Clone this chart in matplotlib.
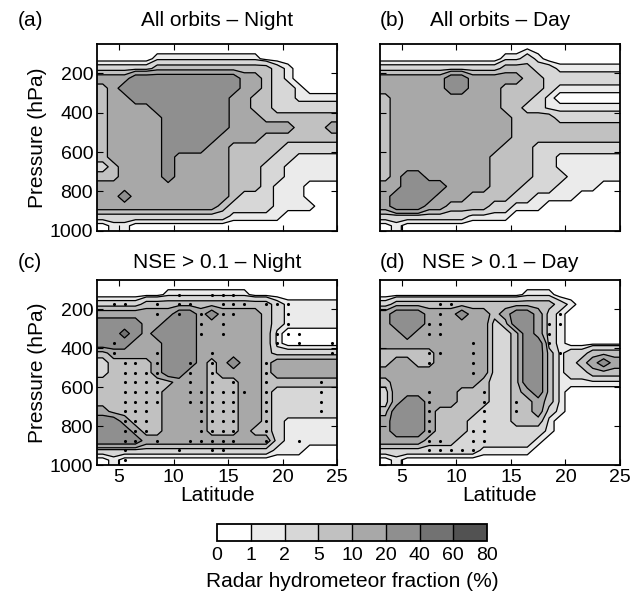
import numpy as np
import matplotlib
matplotlib.use('Agg')
import matplotlib.pyplot as plt
from matplotlib.colors import ListedColormap, BoundaryNorm
from matplotlib.cm import ScalarMappable

plt.rcParams['font.family'] = ['Liberation Sans', 'DejaVu Sans']

# ---------------- data ----------------
levels = [0, 1, 2, 5, 10, 20, 40, 60, 80]
level_labels = ['0', '1', '2', '5', '10', '20', '40', '60', '80']
shades = ['#ffffff', '#ebebeb', '#d7d7d7', '#c1c1c1', '#a8a8a8', '#8f8f8f', '#727272', '#525252']
# representative fraction (%) of each class 0..7
bin_value = [0.4, 1.5, 3.0, 7.0, 14.0, 29.0, 49.0, 69.0]

latitude = [3.5, 4.5, 5.5, 6.5, 7.5, 8.5, 9.5, 10.5, 11.5, 12.5, 13.5,
            14.5, 15.5, 16.5, 17.5, 18.5, 19.5, 20.5, 21.5, 22.5, 23.5, 24.5]
pressure = [125, 175, 225, 275, 325, 375, 425, 475, 525, 575, 625,
            675, 725, 775, 825, 875, 925, 975]
lat_ticks = [5, 10, 15, 20, 25]
p_ticks = [200, 400, 600, 800, 1000]

# class of radar hydrometeor fraction on the grid (rows = pressure, cols = latitude)
night_all = [
    "0000011111111110000000",
    "2222233333333333210000",
    "4445555555555443210000",
    "3455555555555443221000",
    "3445555555554433221111",
    "3444455555554433222222",
    "3444445555554443333333",
    "3444445555554444443334",
    "3444445555544443333333",
    "3444445555443333322222",
    "3444445444443333221111",
    "2344445444443332211111",
    "3344445444443332211111",
    "4444444444443332111000",
    "4454444444443222111000",
    "4444444444432222111100",
    "2222222222221111100000",
    "0110000000000000000000",
]
day_all = [
    "0000000000011210000000",
    "2222222222233322111111",
    "4444445544444332222222",
    "4444445544433332111111",
    "3444444444433321000000",
    "3444444444433221111111",
    "3444444444443333222222",
    "3444444444443333333333",
    "3444444444443333333333",
    "3444444444433322222222",
    "3444444444333322111111",
    "3444444444333322111111",
    "3455444444333322211111",
    "4455554444333222111100",
    "4555544433332211110000",
    "4555443333221110000000",
    "2222222211110000000000",
    "0100000000000000000000",
]
night_nse = [
    "0000001111111100000000",
    "2222333333333333211111",
    "4444444554544443211111",
    "5555445554444443211111",
    "5565455554444443100000",
    "5554445554444443100000",
    "3444445554444443222222",
    "2333345554345443444444",
    "2333345544344443444444",
    "3333333444333443333333",
    "3333334444333443222222",
    "3333334444333443222222",
    "4333334444333443222222",
    "5543334444333443211111",
    "5554334444333433211111",
    "5555444444444444211111",
    "2222222222222222111000",
    "0100000000000000000000",
]
day_nse = [
    "0000000000000111000000",
    "2333333333333333210000",
    "4555444544345542100000",
    "4555444444235542100000",
    "4454444444223542100000",
    "4444444444223552100000",
    "3333344444223553122333",
    "3443344444223553123454",
    "4444444444223553122333",
    "3444444443223553111111",
    "2444444333223453100000",
    "2455444333223343100000",
    "3555433332223342100000",
    "4555433322223331000000",
    "4555433322222221000000",
    "4444333222222210000000",
    "2222222221111100000000",
    "0100000000000000000000",
]

# stippled grid points
night_nse_dots = [
    ".......o..ooo.........",
    ".oo..o.oo..ooo.ooo....",
    ".....o.o.o.oo....o....",
    ".........o.o.....o....",
    ".........o.o....ooo...",
    ".o..............o.o..o",
    ".o...o....o..........o",
    "..oo.o..o.o....o......",
    "..oooo..o.o....o......",
    "..oooo..o.o.o..o....o.",
    "..oooo..oooooo.o....o.",
    "..oooo..ooooo..o....o.",
    "..ooo....oooo..o....o.",
    "..ooo....oooo..o......",
    "..ooo....oooo..o......",
    "..oo.o..ooooo..o..o...",
    "..o....o..oo..........",
    "..o...................",
]
day_nse_dots = [
    "......................",
    ".....oo...............",
    ".....o..........o.....",
    "....oo.........oo.....",
    "....oo.........o......",
    "........o......o......",
    "....oo..o.......o.....",
    "....o...o.............",
    "........o.............",
    "......................",
    "....o....o............",
    "....o....o..o.........",
    "....o....o..o.........",
    "....o....o............",
    "....o...oo............",
    "....oo..oo............",
    "....ooooo.............",
    "......................",
]

panels = [
    ("(a)", "All orbits \u2013 Night", night_all, None),
    ("(b)", "All orbits \u2013 Day", day_all, None),
    ("(c)", "NSE > 0.1 \u2013 Night", night_nse, night_nse_dots),
    ("(d)", "NSE > 0.1 \u2013 Day", day_nse, day_nse_dots),
]

# ---------------- figure ----------------
W, H = 644, 598
fig = plt.figure(figsize=(W / 100, H / 100), dpi=100)

def box(x0, y0, x1, y1):
    return [x0 / W, 1 - y1 / H, (x1 - x0) / W, (y1 - y0) / H]

axes_boxes = [box(97.3, 44, 337, 230.7), box(380, 44, 620, 230.7),
              box(97.3, 280, 337, 465), box(380, 280, 620, 465)]

lat_grid = [3.0] + latitude + [25.0]
p_grid = [50.0] + pressure + [1000.0]

FS_TICK = 14
FS_LAB = 15

for i, (tag, title, rows, dots) in enumerate(panels):
    ax = fig.add_axes(axes_boxes[i])
    z = np.array([[bin_value[int(c)] for c in r] for r in rows])
    z = np.pad(z, ((0, 0), (1, 1)), mode='edge')
    z = np.vstack([np.zeros((1, z.shape[1])), z, z[-1:]])
    ax.contourf(lat_grid, p_grid, z, levels=levels, colors=shades)
    ax.contour(lat_grid, p_grid, z, levels=levels[1:-1], colors='k', linewidths=0.9)
    if dots is not None:
        xs, ys = [], []
        for k, r in enumerate(dots):
            for j, c in enumerate(r):
                if c == 'o':
                    xs.append(latitude[j]); ys.append(pressure[k])
        ax.scatter(xs, ys, s=5, c='k', linewidths=0, zorder=5)
    ax.set_xlim(3, 25)
    ax.set_ylim(1000, 50)
    ax.set_xticks(lat_ticks)
    ax.set_yticks(p_ticks)
    ax.tick_params(direction='in', top=True, right=True, length=4, width=0.8,
                   labelsize=FS_TICK, pad=3)
    for s in ax.spines.values():
        s.set_linewidth(1.3)
    if i in (0, 1):
        ax.set_xticklabels([])
    else:
        ax.set_xlabel("Latitude", fontsize=FS_LAB, labelpad=0)
    if i in (1, 3):
        ax.set_yticklabels([])
    else:
        ax.set_ylabel("Pressure (hPa)", fontsize=FS_LAB, labelpad=2)
    x0 = axes_boxes[i][0]
    ty = 1 - (21 if i < 2 else 263) / H
    fig.text(x0 - (80 if i % 2 == 0 else 0) / W, ty, tag, fontsize=FS_LAB,
             ha='left', va='center')
    ax_cx = x0 + axes_boxes[i][2] / 2
    fig.text(ax_cx, ty, title, fontsize=FS_LAB, ha='center', va='center')

# colorbar
cax = fig.add_axes(box(217, 524, 487, 541))
cmap = ListedColormap(shades)
norm = BoundaryNorm(levels, cmap.N)
cb = fig.colorbar(ScalarMappable(norm=norm, cmap=cmap), cax=cax,
                  orientation='horizontal', spacing='uniform', ticks=levels,
                  drawedges=True)
cb.ax.set_xticklabels(level_labels)
cb.ax.tick_params(length=0, labelsize=FS_TICK, pad=4)
cb.outline.set_linewidth(1.3)
cb.dividers.set_linewidth(1.0)
cb.set_label("Radar hydrometeor fraction (%)", fontsize=FS_LAB, labelpad=6)

fig.savefig("out.png", dpi=100)
